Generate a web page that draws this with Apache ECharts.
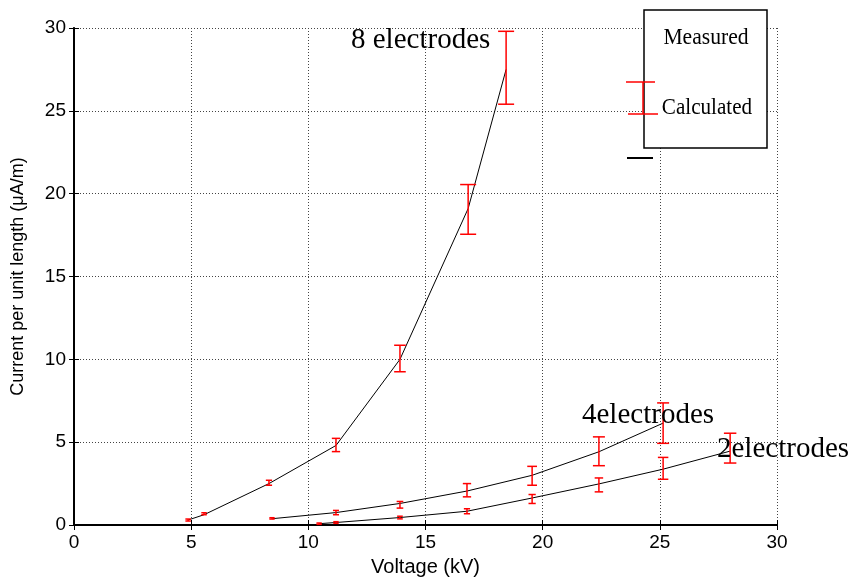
<!DOCTYPE html>
<html><head><meta charset="utf-8">
<script src="https://cdn.jsdelivr.net/npm/echarts@6/dist/echarts.min.js"></script>
<style>html,body{margin:0;padding:0;background:#fff}#c{width:851px;height:582px}</style>
</head><body><div id="c"></div>
<script>
// 8 electrodes
const voltage8 = [4.87, 5.55, 8.32, 11.18, 13.91, 16.82, 18.44];
const measured8 = [0.3, 0.68, 2.55, 4.83, 10.05, 19.05, 27.6];
const error8 = [0.06, 0.06, 0.15, 0.4, 0.8, 1.5, 2.2];
const calc8 = [0.3, 0.62, 2.5, 4.8, 10.0, 19.1, 27.5];
// 4 electrodes
const voltage4 = [8.45, 11.18, 13.91, 16.77, 19.55, 22.4, 25.14];
const measured4 = [0.4, 0.75, 1.22, 2.1, 2.97, 4.45, 6.15];
const error4 = [0.04, 0.13, 0.2, 0.4, 0.57, 0.87, 1.22];
const calc4 = [0.38, 0.75, 1.3, 2.05, 3.0, 4.42, 6.15];
// 2 electrodes
const voltage2 = [10.46, 11.18, 13.91, 16.77, 19.55, 22.4, 25.14, 28.0];
const measured2 = [0.08, 0.15, 0.45, 0.83, 1.57, 2.42, 3.42, 4.64];
const error2 = [0.04, 0.05, 0.08, 0.15, 0.27, 0.42, 0.66, 0.9];
const calc2 = [0.08, 0.15, 0.45, 0.83, 1.63, 2.48, 3.37, 4.46];

const xTickInterval = 5, yTickInterval = 5;

function pairs(xs, ys) { return xs.map((x, i) => [x, ys[i]]); }
function errData(xs, ys, es) { return xs.map((x, i) => [x, ys[i] - es[i], ys[i] + es[i]]); }

function errRender(capMax) {
  return function (params, api) {
    const x = api.value(0), lo = api.value(1), hi = api.value(2);
    const pT = api.coord([x, hi]), pB = api.coord([x, lo]);
    const errPx = Math.abs(pB[1] - pT[1]) / 2;
    const half = Math.min(capMax, 2.5 + errPx * 0.25);
    const style = { stroke: '#ff0000', lineWidth: 1.5 };
    return { type: 'group', children: [
      { type: 'line', shape: { x1: pT[0], y1: pT[1], x2: pB[0], y2: pB[1] }, style },
      { type: 'line', shape: { x1: pT[0] - half, y1: pT[1], x2: pT[0] + half, y2: pT[1] }, style },
      { type: 'line', shape: { x1: pB[0] - half, y1: pB[1], x2: pB[0] + half, y2: pB[1] }, style }
    ]};
  };
}

const sans = '"Liberation Sans", Arial, sans-serif';
const serif = '"Liberation Serif", "Times New Roman", serif';

function lineSeries(xs, ys) {
  return { type: 'line', data: pairs(xs, ys), symbol: 'none', z: 3,
    lineStyle: { color: '#000', width: 1 }, silent: true, animation: false };
}
function errSeries(xs, ys, es, capMax) {
  return { type: 'custom', data: errData(xs, ys, es), renderItem: errRender(capMax),
    encode: { x: 0, y: [1, 2] }, z: 4, silent: true, animation: false, clip: false };
}

const axisCommon = {
  type: 'value', min: 0, max: 30,
  axisLine: { show: true, lineStyle: { color: '#000', width: 1.5 } },
  axisTick: { show: true, inside: true, length: 5, lineStyle: { color: '#000', width: 1 } }
};
const splitStyle = { show: true, lineStyle: { color: '#444', type: [1, 2], width: 1 } };

const chart = echarts.init(document.getElementById('c'), null, { renderer: 'canvas' });
chart.setOption({
  animation: false,
  backgroundColor: '#fff',
  grid: { left: 74, right: 74, top: 28, bottom: 53, containLabel: false },
  xAxis: [
    Object.assign({}, axisCommon, {
      position: 'bottom', interval: xTickInterval,
      axisLine: { show: true, lineStyle: { color: '#000', width: 2 } },
      axisLabel: { color: '#000', fontSize: 19, fontFamily: sans, margin: 8 },
      splitLine: splitStyle,
      name: 'Voltage (kV)', nameLocation: 'middle', nameGap: 32,
      nameTextStyle: { color: '#000', fontSize: 20, fontFamily: sans }
    }),
    Object.assign({}, axisCommon, {
      position: 'top', interval: xTickInterval,
      axisLine: { show: true, lineStyle: { color: '#000', width: 2 } },
      axisLabel: { show: false }, splitLine: { show: false }
    })
  ],
  yAxis: [
    Object.assign({}, axisCommon, {
      position: 'left', interval: yTickInterval,
      axisLabel: { color: '#000', fontSize: 19, fontFamily: sans, margin: 8 },
      splitLine: splitStyle,
      name: 'Current per unit length (μA/m)', nameLocation: 'middle', nameGap: 47,
      nameTextStyle: { color: '#000', fontSize: 18, fontFamily: sans }
    }),
    Object.assign({}, axisCommon, {
      position: 'right', interval: yTickInterval,
      axisLine: { show: true, lineStyle: { color: '#000', width: 2 } },
      axisLabel: { show: false }, splitLine: { show: false }
    })
  ],
  series: [
    lineSeries(voltage8, calc8),
    lineSeries(voltage4, calc4),
    lineSeries(voltage2, calc2),
    errSeries(voltage8, measured8, error8, 8),
    errSeries(voltage4, measured4, error4, 6),
    errSeries(voltage2, measured2, error2, 6.5)
  ],
  graphic: [
    { type: 'text', x: 351, y: 40, z: 50, style: { text: '8 electrodes', font: '29px ' + serif, fill: '#000', align: 'left', verticalAlign: 'middle' } },
    { type: 'text', x: 582, y: 415, z: 50, style: { text: '4electrodes', font: '29px ' + serif, fill: '#000', align: 'left', verticalAlign: 'middle' } },
    { type: 'text', x: 717, y: 449, z: 50, style: { text: '2electrodes', font: '29px ' + serif, fill: '#000', align: 'left', verticalAlign: 'middle' } },
    { type: 'rect', z: 100, shape: { x: 644, y: 10, width: 123, height: 138 }, style: { fill: '#fff', stroke: '#000', lineWidth: 1.5 } },
    { type: 'text', z: 101, x: 706, y: 38, scaleX: 0.9, style: { text: 'Measured', font: '24px ' + serif, fill: '#000', align: 'center', verticalAlign: 'middle' } },
    { type: 'text', z: 101, x: 707, y: 108, scaleX: 0.88, style: { text: 'Calculated', font: '24px ' + serif, fill: '#000', align: 'center', verticalAlign: 'middle' } },
    { type: 'line', z: 102, shape: { x1: 643, y1: 82, x2: 643, y2: 114 }, style: { stroke: '#ff0000', lineWidth: 1.5 } },
    { type: 'line', z: 102, shape: { x1: 626, y1: 82, x2: 655, y2: 82 }, style: { stroke: '#ff0000', lineWidth: 1.5 } },
    { type: 'line', z: 102, shape: { x1: 628, y1: 114, x2: 658, y2: 114 }, style: { stroke: '#ff0000', lineWidth: 1.5 } },
    { type: 'line', z: 102, shape: { x1: 627, y1: 158, x2: 653, y2: 158 }, style: { stroke: '#000', lineWidth: 2 } }
  ]
});
</script>
</body></html>
